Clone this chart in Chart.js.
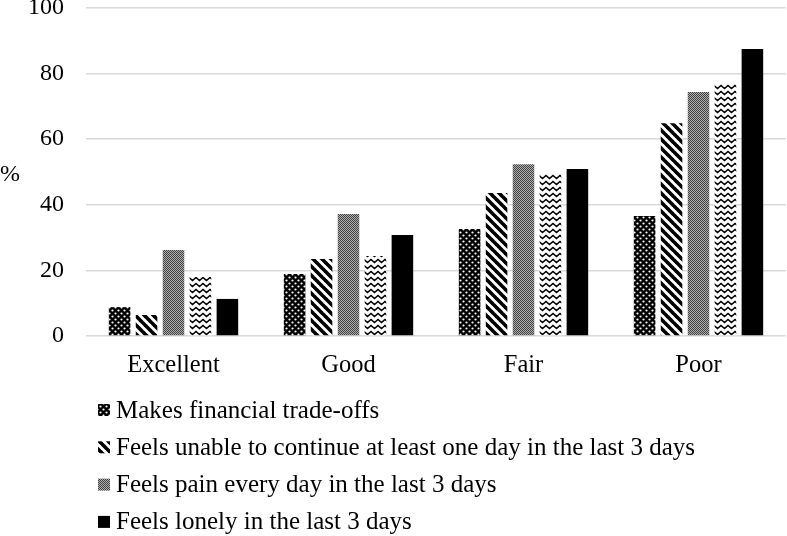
<!DOCTYPE html>
<html>
<head>
<meta charset="utf-8">
<script src="https://cdn.jsdelivr.net/npm/chart.js@4.4.1/dist/chart.umd.min.js"></script>
<style>
	body { margin: 0; background: #fff; }
	#wrap { width: 787px; height: 536px; }
</style>
</head>
<body>
<div id="wrap"><canvas id="chart"></canvas></div>
<script>
const categories = ["Excellent", "Good", "Fair", "Poor"];
const yTicks = [0, 20, 40, 60, 80, 100];

const seriesNames = [
	"Makes financial trade-offs",
	"Feels unable to continue at least one day in the last 3 days",
	"Feels pain every day in the last 3 days",
	"Wavy series",
	"Feels lonely in the last 3 days"
];
// the wavy series has no entry in the original legend
const inLegend = [true, true, true, false, true];

const tradeOffs = [8.8, 18.9, 32.6, 36.6];
const unableToContinue = [6.4, 23.5, 43.6, 64.9];
const painEveryDay = [26.2, 37.2, 52.4, 74.4];
const wavySeries = [18.0, 24.4, 49.4, 76.8];
const lonely = [11.3, 30.8, 50.9, 87.5];

const seriesValues = [tradeOffs, unableToContinue, painEveryDay, wavySeries, lonely];
const patternKinds = ["dots", "stripes", "grey", "wave", "solid"];

const fontFamily = "'Liberation Serif', 'Times New Roman', serif";

function makePattern(kind) {
	if (kind === "solid") return "#000";
	let c = document.createElement("canvas");
	let ctx = c.getContext("2d");
	if (kind === "dots") {
		c.width = 6; c.height = 6;
		ctx.fillStyle = "#000";
		ctx.fillRect(0, 0, 6, 6);
		ctx.fillStyle = "#fff";
		ctx.beginPath(); ctx.arc(1.5, 1.5, 1.1, 0, Math.PI * 2); ctx.fill();
		ctx.beginPath(); ctx.arc(4.5, 4.5, 1.1, 0, Math.PI * 2); ctx.fill();
	} else if (kind === "stripes") {
		let s = 9;
		c.width = s; c.height = s;
		ctx.fillStyle = "#fff";
		ctx.fillRect(0, 0, s, s);
		ctx.strokeStyle = "#000";
		ctx.lineWidth = 3.6;
		[-s, 0, s].forEach((k) => {
			ctx.beginPath();
			ctx.moveTo(k - 1, -1);
			ctx.lineTo(k + s + 1, s + 1);
			ctx.stroke();
		});
	} else if (kind === "grey") {
		c.width = 2; c.height = 2;
		ctx.fillStyle = "#b0b0b0";
		ctx.fillRect(0, 0, 2, 2);
		ctx.fillStyle = "#404040";
		ctx.fillRect(0, 0, 1, 1);
		ctx.fillRect(1, 1, 1, 1);
	} else if (kind === "wave") {
		c.width = 7; c.height = 6;
		ctx.fillStyle = "#fff";
		ctx.fillRect(0, 0, 7, 6);
		ctx.strokeStyle = "#000";
		ctx.lineWidth = 1.5;
		ctx.beginPath();
		ctx.moveTo(-1.75, 3);
		ctx.lineTo(0, 1.5);
		ctx.lineTo(3.5, 4.5);
		ctx.lineTo(7, 1.5);
		ctx.lineTo(8.75, 3);
		ctx.stroke();
	}
	return document.getElementById("chart").getContext("2d").createPattern(c, "repeat");
}

const fills = patternKinds.map(makePattern);

// "%" axis label, drawn upright like the original
const percentLabel = {
	id: "percentLabel",
	afterDraw(chart) {
		let ctx = chart.ctx;
		let area = chart.chartArea;
		ctx.save();
		ctx.font = "24px " + fontFamily;
		ctx.fillStyle = "#000";
		ctx.textAlign = "left";
		ctx.textBaseline = "middle";
		ctx.fillText("%", 0, (area.top + area.bottom) / 2 + 3);
		ctx.restore();
	}
};

// one legend entry per line, left aligned below the axis
const stackedLegend = {
	id: "stackedLegend",
	afterDraw(chart) {
		let ctx = chart.ctx;
		let x0 = 98;
		let y = chart.scales.x.bottom + 33;
		ctx.save();
		ctx.font = "25px " + fontFamily;
		ctx.textBaseline = "middle";
		ctx.textAlign = "left";
		chart.data.datasets.forEach((ds, i) => {
			if (!inLegend[i]) return;
			ctx.fillStyle = ds.backgroundColor;
			ctx.fillRect(x0, y - 6, 12, 12);
			ctx.fillStyle = "#000";
			ctx.fillText(ds.label, x0 + 18, y + 1);
			y += 37.3;
		});
		ctx.restore();
	}
};

new Chart(document.getElementById("chart"), {
	type: "bar",
	data: {
		labels: categories,
		datasets: seriesNames.map((name, i) => ({
			label: name,
			data: seriesValues[i],
			backgroundColor: fills[i],
			borderWidth: 0,
			categoryPercentage: 0.77,
			barPercentage: 0.8
		}))
	},
	options: {
		responsive: true,
		maintainAspectRatio: false,
		animation: false,
		layout: { padding: { left: 28, right: 1, top: 0, bottom: 159 } },
		plugins: {
			legend: { display: false },
			tooltip: { enabled: false }
		},
		scales: {
			x: {
				grid: { display: false },
				border: { display: false },
				ticks: {
					color: "#000",
					padding: 7,
					font: { family: fontFamily, size: 24.5, lineHeight: 1.2 }
				},
				afterFit: (axis) => {
					axis.height = 41;
					axis.paddingLeft = 0;
					axis.paddingRight = 0;
				}
			},
			y: {
				min: 0,
				max: 100,
				afterBuildTicks: (axis) => { axis.ticks = yTicks.map(v => ({ value: v })); },
				grid: { color: "#d9d9d9", lineWidth: 1.5, drawTicks: false },
				border: { display: false },
				ticks: {
					color: "#000",
					padding: 22,
					font: { family: fontFamily, size: 24, lineHeight: 0.67 }
				},
				afterFit: (axis) => {
					axis.width = 58;
					axis.paddingTop = 8;
					axis.paddingBottom = 0;
				}
			}
		}
	},
	plugins: [percentLabel, stackedLegend]
});
</script>
</body>
</html>
